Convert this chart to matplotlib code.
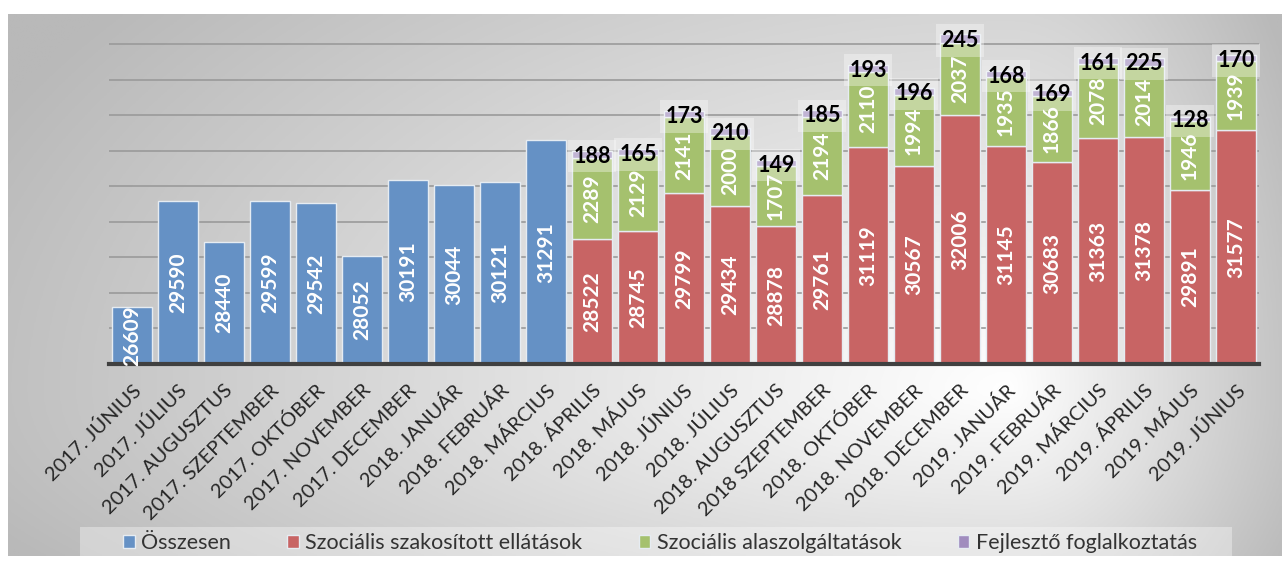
import numpy as np
import matplotlib
matplotlib.use('Agg')
import matplotlib.pyplot as plt
from matplotlib.transforms import ScaledTranslation

plt.rcParams['font.family'] = ['Lato', 'DejaVu Sans']

# adatok
months = ['2017. JÚNIUS', '2017. JÚLIUS', '2017. AUGUSZTUS', '2017. SZEPTEMBER',
          '2017. OKTÓBER', '2017. NOVEMBER', '2017. DECEMBER', '2018. JANUÁR',
          '2018. FEBRUÁR', '2018. MÁRCIUS', '2018. ÁPRILIS', '2018. MÁJUS',
          '2018. JÚNIUS', '2018. JÚLIUS', '2018. AUGUSZTUS', '2018 SZEPTEMBER',
          '2018. OKTÓBER', '2018. NOVEMBER', '2018. DECEMBER', '2019. JANUÁR',
          '2019. FEBRUÁR', '2019. MÁRCIUS', '2019. ÁPRILIS', '2019. MÁJUS',
          '2019. JÚNIUS']
osszesen = [26609, 29590, 28440, 29599, 29542, 28052, 30191, 30044, 30121, 31291]
szakositott = [28522, 28745, 29799, 29434, 28878, 29761, 31119, 30567, 32006,
               31145, 30683, 31363, 31378, 29891, 31577]
alapszolg = [2289, 2129, 2141, 2000, 1707, 2194, 2110, 1994, 2037,
             1935, 1866, 2078, 2014, 1946, 1939]
fejleszto = [188, 165, 173, 210, 149, 185, 193, 196, 245,
             168, 169, 161, 225, 128, 170]

labels = ['Összesen', 'Szociális szakosított ellátások',
          'Szociális alaszolgáltatások', 'Fejlesztő foglalkoztatás']
colors = ['#6591c5', '#c86464', '#a5c16e', '#a08cbe']

W, H = 1284, 561
fig = plt.figure(figsize=(W / 100, H / 100), dpi=100)
fig.patch.set_facecolor('white')

# háttér gradiens
bg = fig.add_axes([8 / W, (H - 556) / H, (1282 - 8) / W, (556 - 14) / H], zorder=0)
xx, yy = np.meshgrid(np.linspace(8, 1282, 400), np.linspace(14, 556, 200))
xc, yc = 1010, 390
rx = np.where(xx < xc, 1000, 290)
ry = np.where(yy < yc, 560, 300)
d = np.sqrt(((xx - xc) / rx) ** 2 + ((yy - yc) / ry) ** 2)
g = np.clip(255 - 62 * d, 185, 255) / 255
bg.imshow(np.dstack([g, g, g]), aspect='auto', extent=[0, 1, 0, 1])
bg.axis('off')
# jelmagyarázat sáv
bg.add_patch(plt.Rectangle(((80 - 8) / 1274, 0), (1232 - 80) / 1274, 29 / 542,
                           transform=bg.transAxes, facecolor='white', alpha=0.35,
                           edgecolor='none'))

ax = fig.add_axes([109 / W, (H - 364) / H, 1150 / W, 334 / H], zorder=1)
ax.set_facecolor('none')

n_blue = len(osszesen)
xb = np.arange(n_blue)
xr = np.arange(n_blue, len(months))
szak = np.array(szakositott)
alap = np.array(alapszolg)
fej = np.array(fejleszto)

bw = 0.86
ec = '#e6ecf2'
ax.bar(xb, osszesen, bw, color=colors[0], edgecolor=ec, linewidth=1, zorder=3, label=labels[0])
ax.bar(xr, szak, bw, color=colors[1], edgecolor=ec, linewidth=1, zorder=3, label=labels[1])
ax.bar(xr, alap, bw, bottom=szak, color=colors[2], edgecolor=ec, linewidth=1, zorder=3, label=labels[2])
ax.bar(xr, fej, bw, bottom=szak + alap, color=colors[3], edgecolor=ec, linewidth=1, zorder=3, label=labels[3])

ymin = 25000
ax.set_ylim(ymin, 34400)
ax.set_xlim(-0.5, len(months) - 0.5)
ax.set_yticks(np.arange(26000, 34001, 1000))
ax.yaxis.grid(True, color='#9a9a9a', linewidth=1.2, zorder=1)
ax.tick_params(axis='y', length=0, labelleft=False)
ax.tick_params(axis='x', length=0, pad=17)
for s in ['left', 'right', 'top']:
    ax.spines[s].set_visible(False)
ax.spines['bottom'].set_color('#404040')
ax.spines['bottom'].set_linewidth(3)
ax.spines['bottom'].set_zorder(4)

ax.set_xticks(np.arange(len(months)))
ax.set_xticklabels(months, rotation=45, ha='right', va='center', rotation_mode='anchor',
                   fontsize=14.5, color='#262626')
shift = ScaledTranslation(6 / 100, 0, fig.dpi_scale_trans)
for t in ax.get_xticklabels():
    t.set_transform(t.get_transform() + shift)

# adatcímkék
lbl = dict(color='white', fontsize=15, fontweight='bold', rotation=90,
           ha='center', va='center', zorder=5)
for x, v in zip(xb, osszesen):
    ax.text(x, (ymin + v) / 2, str(v), **lbl)
for x, s, a, f in zip(xr, szak, alap, fej):
    ax.text(x, (ymin + s) / 2, str(s), **lbl)
    ax.text(x, s + a / 2, str(a), **lbl)
    ax.text(x, s + a + f / 2 - 60, str(f), color='black', fontsize=15.5,
            fontweight='bold', ha='center', va='center', zorder=6,
            bbox=dict(facecolor='white', alpha=0.35, edgecolor='none', pad=4))

leg = fig.legend(loc='center', bbox_to_anchor=(660 / W, (H - 543) / H), ncol=4,
                 frameon=False, fontsize=15.5, handlelength=0.55, handleheight=0.55,
                 handletextpad=0.3, columnspacing=2.6)
for t in leg.get_texts():
    t.set_color('#333333')

fig.savefig('out.png', dpi=100, facecolor=fig.get_facecolor())
